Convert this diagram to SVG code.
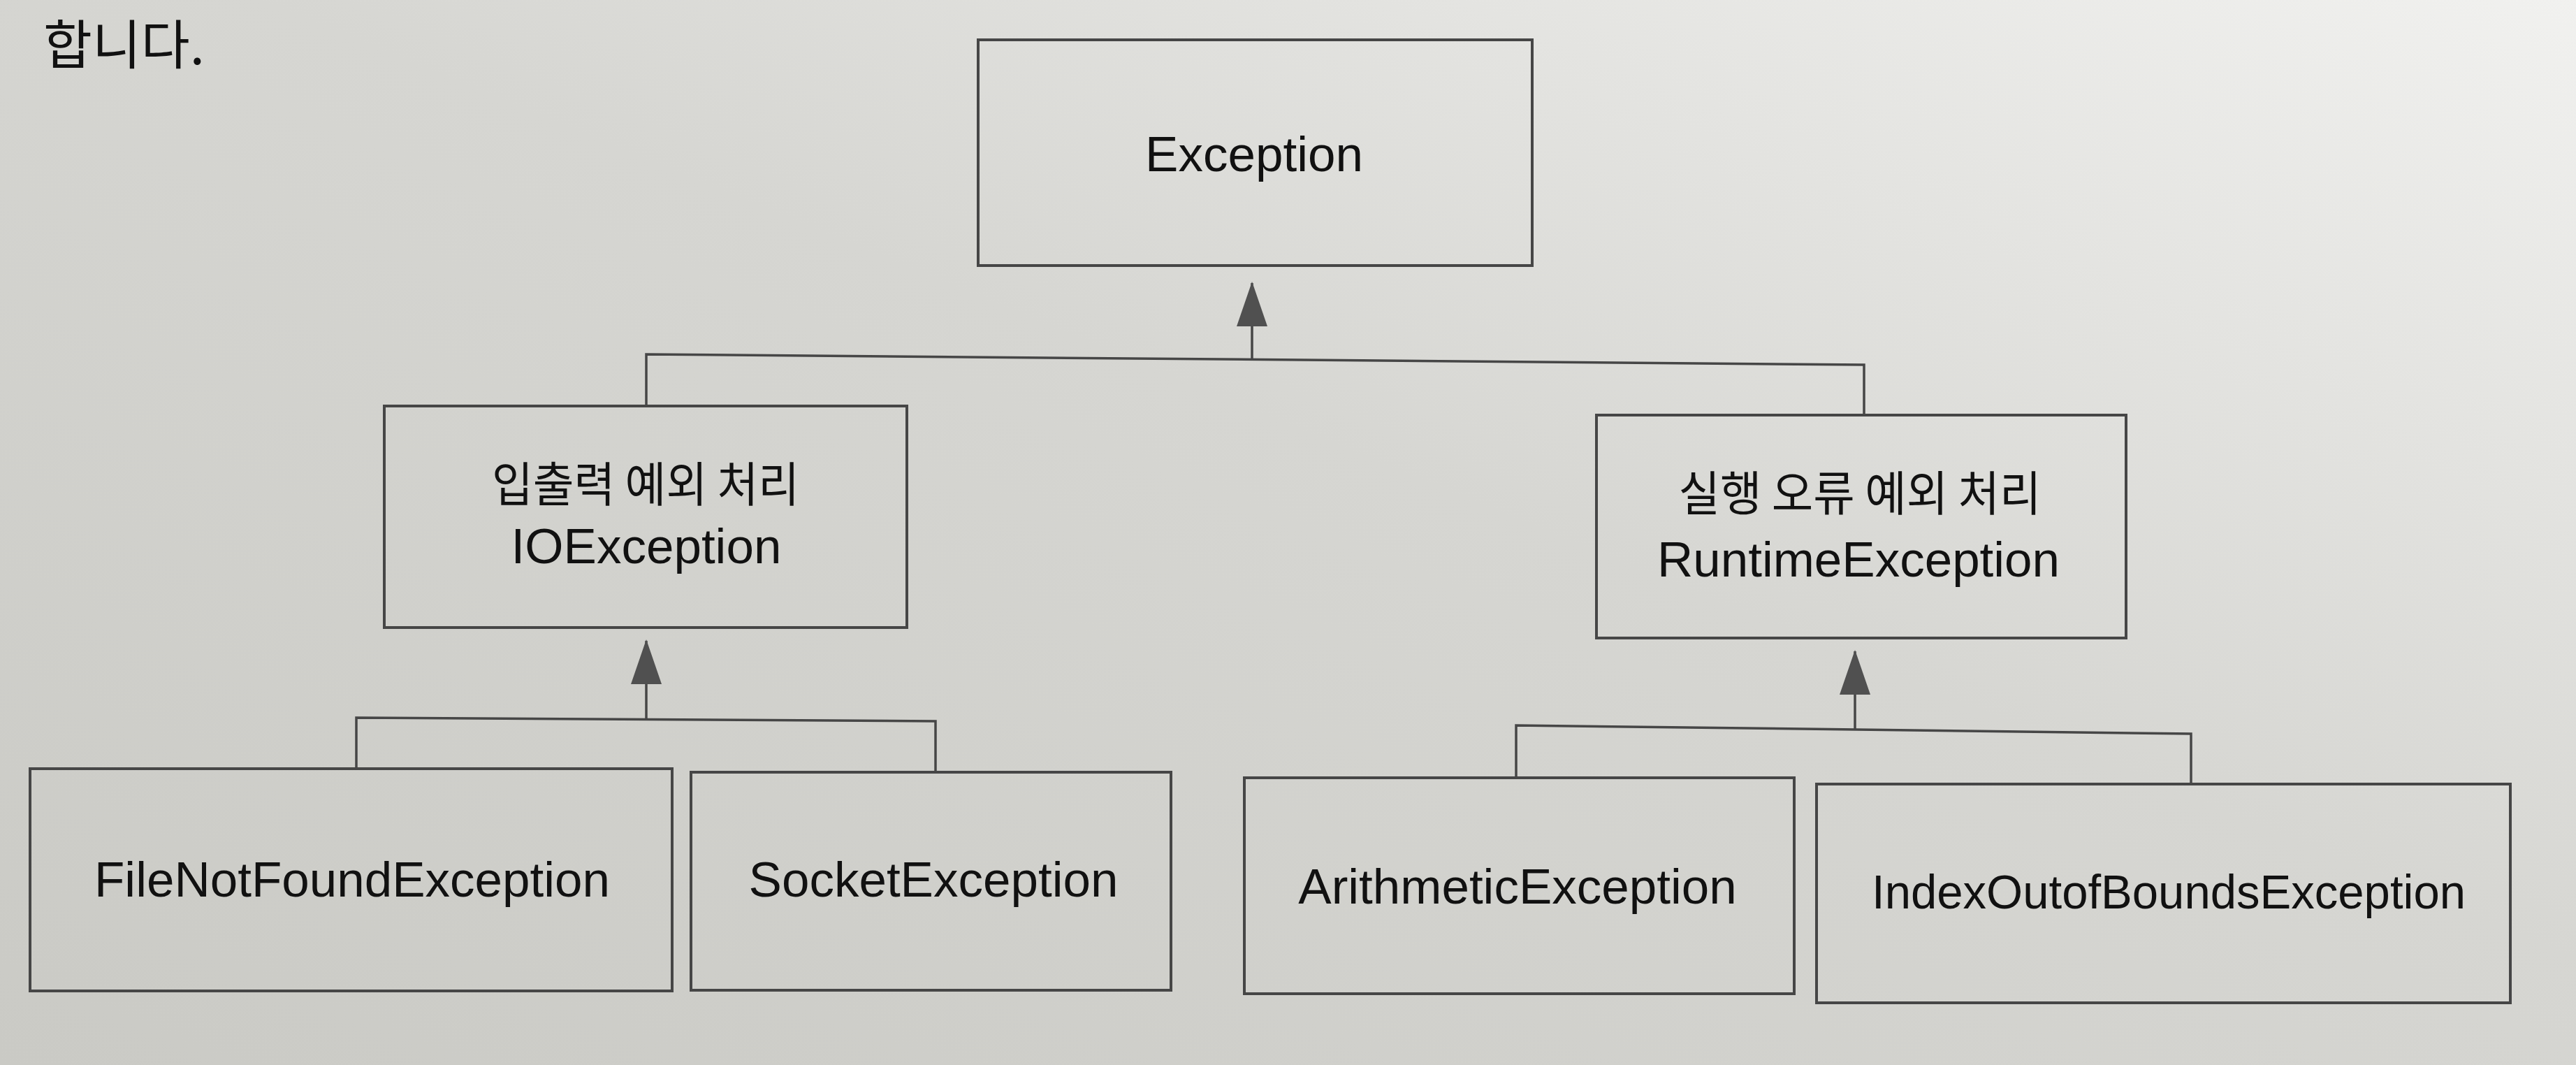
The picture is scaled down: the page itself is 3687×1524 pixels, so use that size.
<svg xmlns="http://www.w3.org/2000/svg" width="3687" height="1524" viewBox="0 0 3687 1524">
  <defs>
    <linearGradient id="paper" x1="0" y1="1" x2="1" y2="0">
      <stop offset="0" stop-color="#cacac5"/>
      <stop offset="0.55" stop-color="#d6d6d2"/>
      <stop offset="1" stop-color="#f1f1ef"/>
    </linearGradient>
    <marker id="arrow" markerUnits="userSpaceOnUse" viewBox="0 0 64 44" markerWidth="64" markerHeight="44" refX="62" refY="22" orient="auto">
      <path d="M0,0 L64,22 L0,44 Z" fill="#505050"/>
    </marker>
    <style>
      .box { fill: none; stroke: #464646; stroke-width: 4; }
      .line { fill: none; stroke: #464646; stroke-width: 3.5; }
      .lbl { font-family: "Liberation Sans", "Noto Sans CJK KR", sans-serif; font-size: 71px; fill: #111; text-anchor: middle; }
      .ko { font-family: "Noto Sans CJK KR", "Liberation Sans", sans-serif; font-size: 68px; fill: #111; text-anchor: middle; }
    </style>
  </defs>
  <rect x="0" y="0" width="3687" height="1524" fill="url(#paper)"/>
  <text x="62" y="92" font-family="Noto Sans CJK KR, sans-serif" font-size="76" fill="#111">합니다.</text>

  <g id="connectors">
    <path class="line" d="M925,581 L925,507 L2668,522 L2668,594"/>
    <path class="line" d="M1792,515 L1792,405" marker-end="url(#arrow)"/>
    <path class="line" d="M510,1100 L510,1027 L1339,1032 L1339,1105"/>
    <path class="line" d="M925,1029 L925,917" marker-end="url(#arrow)"/>
    <path class="line" d="M2170,1113 L2170,1038 L3136,1050 L3136,1122"/>
    <path class="line" d="M2655,1044 L2655,932" marker-end="url(#arrow)"/>
  </g>

  <g id="node-exception">
    <rect class="box" x="1400" y="57" width="793" height="323"/>
    <text class="lbl" x="1795" y="245">Exception</text>
  </g>
  <g id="node-ioexception">
    <rect class="box" x="550" y="581" width="748" height="317"/>
    <text class="ko" x="924" y="718" textLength="440" lengthAdjust="spacingAndGlyphs">입출력 예외 처리</text>
    <text class="lbl" x="925" y="806">IOException</text>
  </g>
  <g id="node-runtimeexception">
    <rect class="box" x="2285" y="594" width="758" height="319"/>
    <text class="ko" x="2662" y="731" textLength="519" lengthAdjust="spacingAndGlyphs">실행 오류 예외 처리</text>
    <text class="lbl" x="2660" y="825">RuntimeException</text>
  </g>
  <g id="node-filenotfound">
    <rect class="box" x="43" y="1100" width="919" height="318"/>
    <text class="lbl" x="504" y="1283">FileNotFoundException</text>
  </g>
  <g id="node-socket">
    <rect class="box" x="989" y="1105" width="687" height="312"/>
    <text class="lbl" x="1336" y="1283">SocketException</text>
  </g>
  <g id="node-arithmetic">
    <rect class="box" x="1781" y="1113" width="787" height="309"/>
    <text class="lbl" x="2172" y="1293">ArithmeticException</text>
  </g>
  <g id="node-indexoutofbounds">
    <rect class="box" x="2600" y="1122" width="993" height="313"/>
    <text class="lbl" x="3104" y="1300" textLength="850" lengthAdjust="spacingAndGlyphs" style="font-size:68px">IndexOutofBoundsException</text>
  </g>
</svg>
